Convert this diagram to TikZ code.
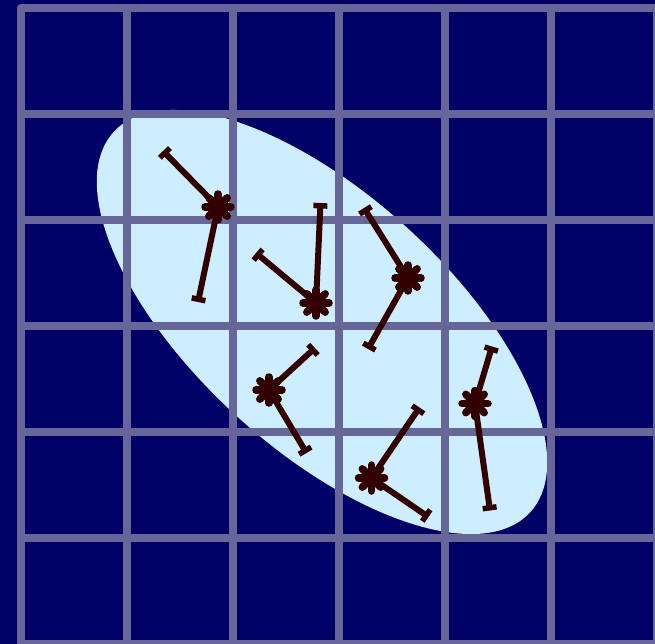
\documentclass[tikz,border=0pt]{standalone}
\usetikzlibrary{arrows.meta,positioning}
\definecolor{navybg}{RGB}{0,0,102}
\definecolor{gridcol}{RGB}{102,102,153}
\definecolor{cloud}{RGB}{204,238,255}
\definecolor{molcol}{RGB}{51,0,0}

\begin{document}
\begin{tikzpicture}[x=1pt,y=-1pt,
  gridline/.style={draw=gridcol,line width=8pt},
  arm/.style={draw=molcol,line width=6pt,-{Bar[width=14pt,line width=5.5pt]}},
  spoke/.style={draw=molcol,line width=7.5pt,line cap=round}]
\fill[navybg] (0,0) rectangle (655,644);
\useasboundingbox (0,0) rectangle (655,644);
% the cloud
\fill[cloud,rotate around={-42.4:(322,322)}] (322,322) ellipse (282 and 127);
% grid
\draw[gridline,line join=round] (20.5,660) -- (20.5,8) -- (670,8);
\foreach \k in {1,...,6} {
  \draw[gridline] (20.5+106*\k,8) -- (20.5+106*\k,660);
  \draw[gridline] (20.5,8+106*\k) -- (670,8+106*\k);
}
% molecules
\coordinate (m1) at (218,207); \coordinate (m2) at (316,303); \coordinate (m3) at (408,278);
\coordinate (m4) at (269,390); \coordinate (m5) at (371.5,478); \coordinate (m6) at (475,403.5);
\coordinate [above left=56pt and 55pt of m1] (m1a); \coordinate [below left=95pt and 20pt of m1] (m1b);
\coordinate [above right=100pt and 4.5pt of m2] (m2a); \coordinate [above left=50pt and 60pt of m2] (m2b);
\coordinate [above left=70pt and 44pt of m3] (m3a); \coordinate [below left=71pt and 40pt of m3] (m3b);
\coordinate [above right=42pt and 46pt of m4] (m4a); \coordinate [below right=63pt and 37.5pt of m4] (m4b);
\coordinate [above right=70.5pt and 48pt of m5] (m5a); \coordinate [below right=39pt and 57pt of m5] (m5b);
\coordinate [above right=57pt and 17pt of m6] (m6a); \coordinate [below right=107pt and 15pt of m6] (m6b);
\foreach \i in {1,...,6} {
  \draw[arm] (m\i) -- (m\i a); \draw[arm] (m\i) -- (m\i b);
  \foreach \a in {0,45,...,315} \draw[spoke] (m\i) -- ++(\a:13);
}
\end{tikzpicture}
\end{document}
